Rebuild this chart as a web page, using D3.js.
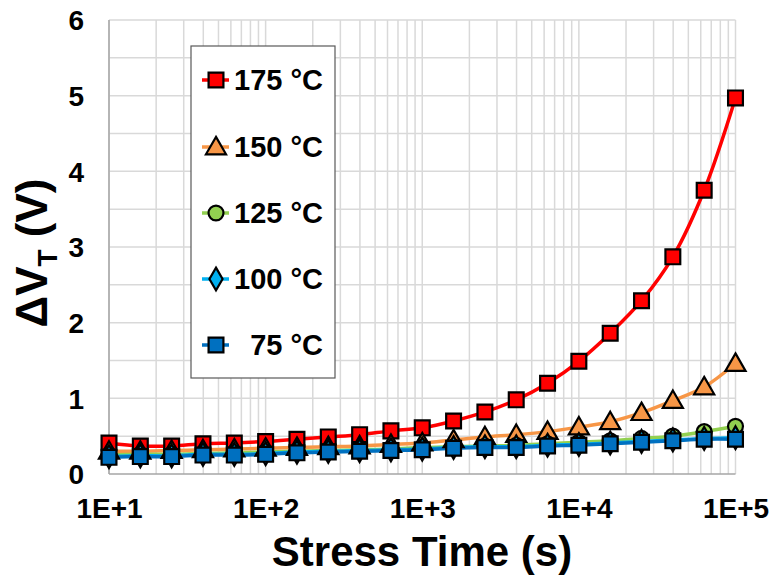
<!DOCTYPE html>
<html>
<head>
<meta charset="utf-8">
<script src="https://cdn.jsdelivr.net/npm/d3@7/dist/d3.min.js"></script>
<style>
  html, body { margin: 0; padding: 0; background: #fff; }
  svg { display: block; font-family: Arial, "Liberation Sans", sans-serif; }
</style>
</head>
<body>
<svg id="chart" width="774" height="576"></svg>
<script>
// ---- Data ----
const times = [1e1, 1.585e1, 2.512e1, 3.981e1, 6.310e1,
               1e2, 1.585e2, 2.512e2, 3.981e2, 6.310e2,
               1e3, 1.585e3, 2.512e3, 3.981e3, 6.310e3,
               1e4, 1.585e4, 2.512e4, 3.981e4, 6.310e4, 1e5];
const seriesNames = ["175 °C", "150 °C", "125 °C", "100 °C", "75 °C"];
const v175 = [0.41,0.37,0.37,0.40,0.41,0.43,0.46,0.49,0.52,0.57,0.61,0.70,0.82,0.98,1.20,1.49,1.86,2.29,2.87,3.75,4.97];
const v150 = [0.30,0.30,0.31,0.32,0.33,0.34,0.35,0.36,0.37,0.39,0.41,0.45,0.49,0.52,0.56,0.62,0.69,0.81,0.97,1.15,1.46];
const v125 = [0.25,0.26,0.26,0.27,0.28,0.29,0.30,0.31,0.32,0.33,0.35,0.36,0.37,0.38,0.40,0.42,0.44,0.47,0.50,0.56,0.63];
const v100 = [0.23,0.24,0.24,0.26,0.26,0.27,0.29,0.30,0.31,0.32,0.33,0.35,0.36,0.36,0.38,0.39,0.41,0.43,0.45,0.47,0.48];
const v75  = [0.22,0.23,0.23,0.25,0.25,0.26,0.28,0.29,0.30,0.31,0.32,0.34,0.35,0.35,0.37,0.38,0.40,0.42,0.44,0.46,0.46];
const xTickValues = [1e1, 1e2, 1e3, 1e4, 1e5];
const xTickLabels = ["1E+1", "1E+2", "1E+3", "1E+4", "1E+5"];
const yTickValues = [0, 1, 2, 3, 4, 5, 6];
const colors  = ["#ff0000", "#f79646", "#92d050", "#00b0f0", "#0070c0"];
const symbols = ["square", "triangle", "circle", "diamond", "square"];
const allValues = [v175, v150, v125, v100, v75];

// ---- Layout ----
const svg = d3.select("#chart");
const L = 109, R = 735.5, T = 20, B = 474;
const x = d3.scaleLog().domain([1e1, 1e5]).range([L, R]);
const y = d3.scaleLinear().domain([0, 6]).range([B, T]);

// grid
const grid = svg.append("g");
const minor = [];
for (let d = 1; d < 5; d++) for (let m = 1; m <= 9; m++) minor.push(m * Math.pow(10, d));
minor.push(1e5);
grid.selectAll("line.v").data(minor).join("line")
  .attr("x1", d => x(d)).attr("x2", d => x(d))
  .attr("y1", T).attr("y2", B)
  .attr("stroke", "#d9d9d9").attr("stroke-width", 1.5);
grid.selectAll("line.h").data(d3.range(0.5, 6.01, 0.5)).join("line")
  .attr("x1", L).attr("x2", R)
  .attr("y1", d => y(d)).attr("y2", d => y(d))
  .attr("stroke", "#d9d9d9").attr("stroke-width", 1.5);

// axes lines
svg.append("line").attr("x1", L).attr("x2", L).attr("y1", T).attr("y2", B)
  .attr("stroke", "#a6a6a6").attr("stroke-width", 1.5);
svg.append("line").attr("x1", L).attr("x2", R).attr("y1", B).attr("y2", B)
  .attr("stroke", "#a6a6a6").attr("stroke-width", 1.5);

// y axis labels
const yAxis = d3.axisLeft(y).tickValues(yTickValues).tickSize(0).tickPadding(0).tickFormat(d3.format("d"));
const yg = svg.append("g").attr("transform", `translate(${84},0)`).call(yAxis);
yg.select(".domain").remove();
yg.selectAll("text").attr("font-size", 28).attr("font-weight", "bold").attr("fill", "#000")
  .attr("font-family", "Arial, 'Liberation Sans', sans-serif").attr("dy", "0.35em").attr("x", 0);

// x axis labels
const xAxis = d3.axisBottom(x).tickValues(xTickValues).tickSize(0).tickPadding(0)
  .tickFormat((d, i) => xTickLabels[i]);
const xg = svg.append("g").attr("transform", `translate(0,${B})`).call(xAxis);
xg.select(".domain").remove();
xg.selectAll("text").attr("font-size", 28).attr("font-weight", "bold").attr("fill", "#000")
  .attr("font-family", "Arial, 'Liberation Sans', sans-serif").attr("dy", null).attr("y", 44);

// axis titles
svg.append("text").attr("x", 422).attr("y", 566).attr("text-anchor", "middle")
  .attr("font-size", 42).attr("font-weight", "bold").text("Stress Time (s)");
const yt = svg.append("text").attr("transform", "translate(47,253) rotate(-90)")
  .attr("text-anchor", "middle").attr("font-size", 44).attr("font-weight", "bold");
yt.append("tspan").text("ΔV");
yt.append("tspan").attr("font-size", 28).attr("dy", 10).text("T");
yt.append("tspan").attr("dy", -10).text(" (V)");

// series
const symType = { square: d3.symbolSquare, triangle: d3.symbolTriangle, circle: d3.symbolCircle, diamond: d3.symbolDiamond };
const symSize = { square: 220, triangle: 175, circle: 175, diamond: 150 };
const line = d3.line().x(d => x(d[0])).y(d => y(d[1])).curve(d3.curveCatmullRom);
const plot = svg.append("g");
allValues.forEach((vals, i) => {
  const pts = times.map((t, j) => [t, vals[j]]);
  plot.append("path").attr("d", line(pts)).attr("fill", "none")
    .attr("stroke", colors[i]).attr("stroke-width", 3.5);
});
allValues.forEach((vals, i) => {
  const pts = times.map((t, j) => [t, vals[j]]);
  const sym = d3.symbol().type(symType[symbols[i]]).size(symSize[symbols[i]]);
  plot.selectAll(null).data(pts).join("path")
    .attr("transform", d => `translate(${x(d[0])},${y(d[1]) + (symbols[i] === "triangle" ? 1.5 : 0)})`)
    .attr("d", sym)
    .attr("fill", colors[i]).attr("stroke", "#000").attr("stroke-width", 2.2);
});

// legend
const lg = svg.append("g");
lg.append("rect").attr("x", 191).attr("y", 46).attr("width", 144).attr("height", 332)
  .attr("fill", "#fff").attr("stroke", "#595959").attr("stroke-width", 1.2);
const legendY = [80, 147, 213, 279, 345];
seriesNames.forEach((name, i) => {
  const gy = legendY[i];
  lg.append("line").attr("x1", 202).attr("x2", 229).attr("y1", gy).attr("y2", gy)
    .attr("stroke", colors[i]).attr("stroke-width", 3.5);
  const sym = d3.symbol().type(symType[symbols[i]]).size(symSize[symbols[i]]);
  lg.append("path").attr("transform", `translate(216,${gy + (symbols[i] === "triangle" ? 1.5 : 0)})`)
    .attr("d", sym).attr("fill", colors[i]).attr("stroke", "#000").attr("stroke-width", 2.2);
  lg.append("text").attr("x", 323).attr("y", gy + 10).attr("text-anchor", "end")
    .attr("font-size", 29).attr("font-weight", "bold").text(name);
});
</script>
</body>
</html>
